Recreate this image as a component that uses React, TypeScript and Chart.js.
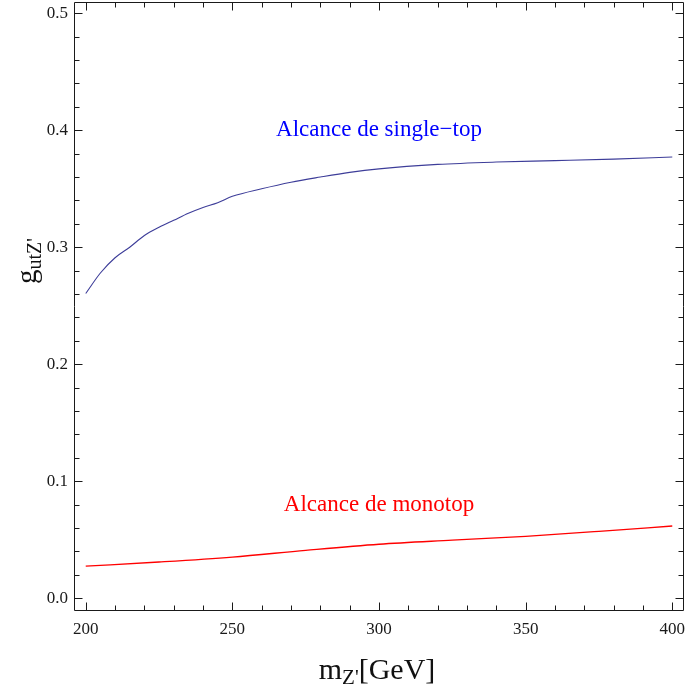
import React, { useEffect, useRef } from "react";
import { Chart, registerables } from "chart.js";

Chart.register(...registerables);

// ---- data ----
const singleTopMass = [200, 205, 210, 215, 220, 225, 230, 235, 240, 245, 250, 260, 270, 280, 290, 300, 320, 340, 360, 380, 400];
const singleTopReach = [0.2605, 0.278, 0.291, 0.3, 0.31, 0.317, 0.323, 0.329, 0.334, 0.338, 0.3435, 0.35, 0.3556, 0.36, 0.364, 0.367, 0.3708, 0.3728, 0.374, 0.3753, 0.3771];
const monotopMass = [200, 225, 250, 275, 300, 325, 350, 375, 400];
const monotopReach = [0.0275, 0.031, 0.0352, 0.041, 0.0462, 0.0497, 0.053, 0.0572, 0.0618];

const xMajorTicks = [200, 250, 300, 350, 400];
const yMajorTicks = [0, 0.1, 0.2, 0.3, 0.4, 0.5];
const xMinorTicks = [210, 220, 230, 240, 260, 270, 280, 290, 310, 320, 330, 340, 360, 370, 380, 390];
const yMinorTicks = [0.02, 0.04, 0.06, 0.08, 0.12, 0.14, 0.16, 0.18, 0.22, 0.24, 0.26, 0.28, 0.32, 0.34, 0.36, 0.38, 0.42, 0.44, 0.46, 0.48];
const xRange = [196, 404];
const yRange = [-0.01, 0.51];

const curveLabels = ["Alcance de single\u2212top", "Alcance de monotop"];
const curveLabelX = [300, 300];
const curveLabelY = [0.4, 0.08];
const curveLabelColors = ["#0000ff", "#ff0000"];

const SERIF = '"Liberation Serif", "Times New Roman", serif';

const framePlugin = {
  id: "mmaFrame",
  afterDraw(chart: any) {
    const { ctx, chartArea: a, scales } = chart;
    const xs = scales.x;
    const ys = scales.y;
    ctx.save();
    ctx.strokeStyle = "#1a1a1a";
    ctx.lineWidth = 1;
    const L = Math.round(a.left) + 0.5;
    const R = Math.round(a.right) - 0.5;
    const T = Math.round(a.top) + 0.5;
    const B = Math.round(a.bottom) + 0.5;
    ctx.beginPath();
    ctx.moveTo(L, T);
    ctx.lineTo(R, T);
    ctx.lineTo(R, B);
    ctx.lineTo(L, B);
    ctx.closePath();
    ctx.stroke();

    const tickX = (v: number, len: number) => {
      const p = Math.round(xs.getPixelForValue(v)) + 0.5;
      ctx.moveTo(p, B);
      ctx.lineTo(p, B - len);
      ctx.moveTo(p, T);
      ctx.lineTo(p, T + len);
    };
    const tickY = (v: number, len: number) => {
      const p = Math.round(ys.getPixelForValue(v)) + 0.5;
      ctx.moveTo(L, p);
      ctx.lineTo(L + len, p);
      ctx.moveTo(R, p);
      ctx.lineTo(R - len, p);
    };
    ctx.beginPath();
    xMajorTicks.forEach((v) => tickX(v, 8));
    xMinorTicks.forEach((v) => tickX(v, 5));
    yMajorTicks.forEach((v) => tickY(v, 8));
    yMinorTicks.forEach((v) => tickY(v, 5));
    ctx.stroke();

    // curve labels
    ctx.textAlign = "center";
    ctx.textBaseline = "middle";
    ctx.font = `23px ${SERIF}`;
    curveLabels.forEach((t, i) => {
      ctx.fillStyle = curveLabelColors[i];
      ctx.fillText(t, xs.getPixelForValue(curveLabelX[i]), ys.getPixelForValue(curveLabelY[i]));
    });

    // axis titles with subscripts
    ctx.fillStyle = "#111";
    ctx.textBaseline = "alphabetic";
    ctx.textAlign = "left";
    const drawParts = (parts: [string, boolean][], cx: number, baseline: number, bigSize: number, smallSize: number) => {
      const big = `${bigSize}px ${SERIF}`;
      const small = `${smallSize}px ${SERIF}`;
      let w = 0;
      parts.forEach(([t, sub]) => {
        ctx.font = sub ? small : big;
        w += ctx.measureText(t).width;
      });
      let x = cx - w / 2;
      parts.forEach(([t, sub]) => {
        ctx.font = sub ? small : big;
        ctx.fillText(t, x, baseline + (sub ? 5 : 0));
        x += ctx.measureText(t).width;
      });
    };
    drawParts([["m", false], ["Z'", true], ["[GeV]", false]], (a.left + a.right) / 2 - 2, 679, 30, 21);

    ctx.save();
    ctx.translate(36, 261);
    ctx.rotate(-Math.PI / 2);
    drawParts([["g", false], ["utZ'", true]], 0, 0, 29, 20);
    ctx.restore();

    ctx.restore();
  },
};

export default function App() {
  const ref = useRef<HTMLCanvasElement>(null);
  useEffect(() => {
    if (!ref.current) return;
    const tickFont = { family: SERIF, size: 17 };
    const chart = new Chart(ref.current, {
      type: "line",
      data: {
        datasets: [
          {
            label: "single-top",
            data: singleTopMass.map((m, i) => ({ x: m, y: singleTopReach[i] })),
            borderColor: "#3d3d99",
            borderWidth: 1.1,
            pointRadius: 0,
            cubicInterpolationMode: "monotone",
            fill: false,
          },
          {
            label: "monotop",
            data: monotopMass.map((m, i) => ({ x: m, y: monotopReach[i] })),
            borderColor: "#ff0000",
            borderWidth: 1.3,
            pointRadius: 0,
            cubicInterpolationMode: "monotone",
            fill: false,
          },
        ],
      },
      options: {
        responsive: false,
        animation: false,
        events: [],
        layout: { padding: { left: 0, top: 1.5, right: 2, bottom: 0 } },
        plugins: { legend: { display: false }, tooltip: { enabled: false } },
        scales: {
          x: {
            type: "linear",
            min: xRange[0],
            max: xRange[1],
            grid: { display: false, drawTicks: false },
            border: { display: false },
            afterBuildTicks: (s: any) => {
              s.ticks = xMajorTicks.map((v) => ({ value: v }));
            },
            afterFit: (s: any) => {
              s.height = 82;
              s.paddingLeft = 0;
              s.paddingRight = 0;
            },
            ticks: {
              font: tickFont,
              color: "#1a1a1a",
              padding: 9,
              maxRotation: 0,
              autoSkip: false,
              callback: (v: any) => String(v),
            },
          },
          y: {
            type: "linear",
            min: yRange[0],
            max: yRange[1],
            grid: { display: false, drawTicks: false },
            border: { display: false },
            afterBuildTicks: (s: any) => {
              s.ticks = yMajorTicks.map((v) => ({ value: v }));
            },
            afterFit: (s: any) => {
              s.width = 74;
              s.paddingTop = 0;
              s.paddingBottom = 0;
            },
            ticks: {
              font: tickFont,
              color: "#1a1a1a",
              padding: 6,
              autoSkip: false,
              callback: (v: any) => Number(v).toFixed(1),
            },
          },
        },
      },
      plugins: [framePlugin],
    });
    return () => chart.destroy();
  }, []);
  return (
    <div style={{ position: "absolute", left: 0, top: 0, width: 686, height: 692, background: "#fff" }}>
      <canvas ref={ref} width={686} height={692} style={{ display: "block" }} />
    </div>
  );
}
